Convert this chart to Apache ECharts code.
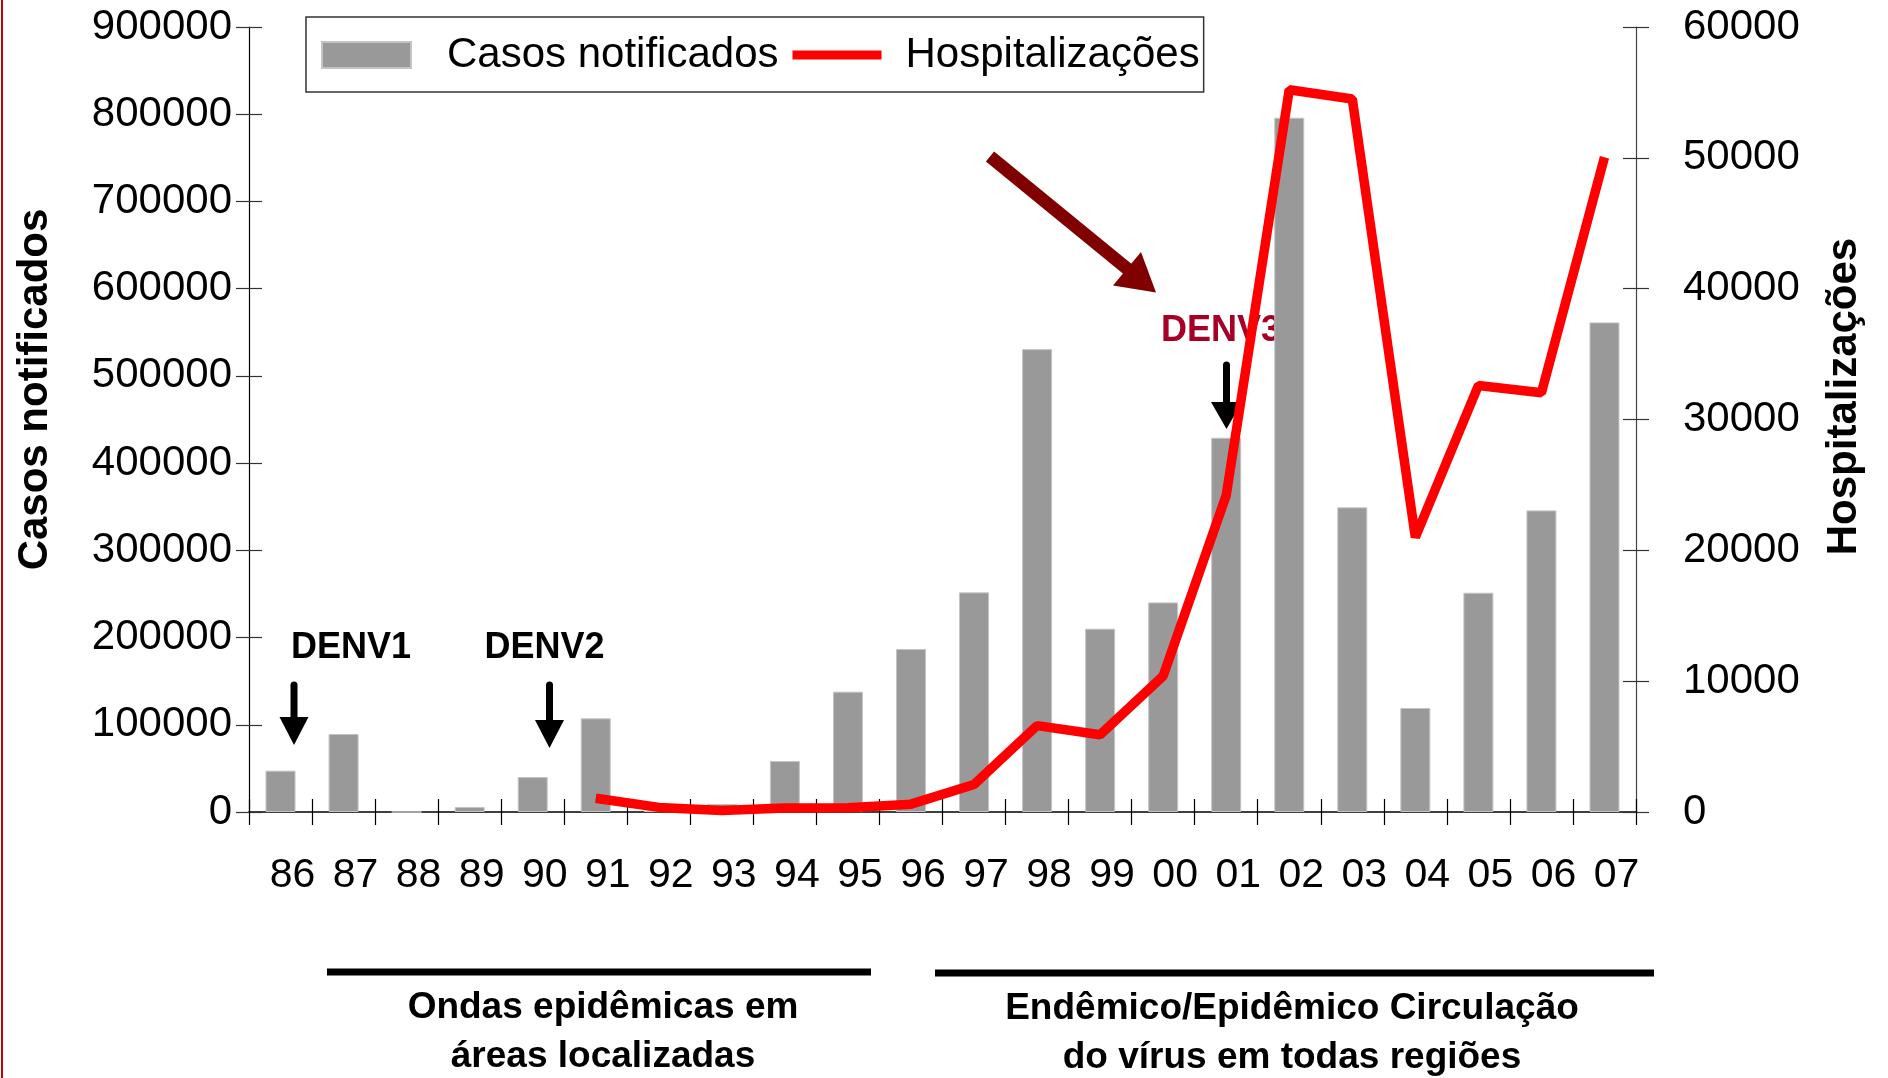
<!DOCTYPE html>
<html><head><meta charset="utf-8">
<script src="https://cdn.jsdelivr.net/npm/echarts@6/dist/echarts.min.js"></script>
<style>html,body{margin:0;padding:0;background:#fff}#c{width:1888px;height:1078px}</style>
</head><body><div id="c"></div>
<script>
// ---- data ----
const years = ['86','87','88','89','90','91','92','93','94','95','96','97','98','99','00','01','02','03','04','05','06','07'];
const casosNotificados = [47400, 89400, 0, 5700, 40100, 107400, 1700, 9200, 58500, 138000, 186900, 251800, 530700, 210200, 240300, 429100, 796000, 349300, 119200, 251400, 345800, 561300];
const hospitalizacoes = [null, null, null, null, null, 1050, 350, 120, 300, 330, 600, 2100, 6600, 5900, 10400, 24200, 55200, 54500, 21000, 32600, 32050, 50050];
const leftAxis = {min: 0, max: 900000, interval: 100000};
const rightAxis = {min: 0, max: 60000, interval: 10000};
const seriesNames = ['Casos notificados', 'Hospitalizações'];
const axisNames = ['Casos notificados', 'Hospitalizações'];
const notes = {denv1: 'DENV1', denv2: 'DENV2', denv3: 'DENV3',
  periodA: ['Ondas epidêmicas em', 'áreas localizadas'],
  periodB: ['Endêmico/Epidêmico Circulação', 'do vírus em todas regiões']};

const FF = '"Liberation Sans", Arial, Helvetica, sans-serif';
const chart = echarts.init(document.getElementById('c'), null, {renderer: 'canvas'});
const plain = v => String(v);

function tickAxisY(cfg, pos, inside, show) {
  return Object.assign({
    type: 'value', position: pos,
    splitLine: {show: false},
    axisLine: {show: !inside, lineStyle: {color: pos === 'left' ? '#000' : '#444', width: 1.2}},
    axisTick: {show: true, inside: inside, length: 13, lineStyle: {color: '#333', width: 1.2}},
    axisLabel: {show: show}
  }, cfg);
}

const yLeft = tickAxisY(leftAxis, 'left', false, true);
yLeft.axisLabel = {show: true, margin: 17, fontSize: 42, color: '#000', fontFamily: FF, formatter: plain};
yLeft.name = axisNames[0];
yLeft.nameLocation = 'middle';
yLeft.nameGap = 193;
yLeft.nameRotate = 90;
yLeft.nameTextStyle = {fontSize: 42, fontWeight: 'bold', color: '#000', fontFamily: FF, lineHeight: 42, padding: [0, 0, 0, 60]};

const yRight = tickAxisY(rightAxis, 'right', false, true);
yRight.axisLabel = {show: true, margin: 47, fontSize: 42, color: '#000', fontFamily: FF, formatter: plain};
yRight.name = axisNames[1];
yRight.nameLocation = 'middle';
yRight.nameGap = 187;
yRight.nameRotate = 90;
yRight.nameTextStyle = {fontSize: 42, fontWeight: 'bold', color: '#000', fontFamily: FF, lineHeight: 42, padding: [0, 0, 0, 46]};

const option = {
  animation: false,
  backgroundColor: '#fff',
  grid: {left: 249, right: 252, top: 27, bottom: 266, containLabel: false, outerBoundsMode: 'none'},
  legend: {
    left: 306, top: 17,
    orient: 'horizontal',
    padding: [17, 4, 16, 15],
    borderColor: '#333', borderWidth: 1.5,
    itemWidth: 89, itemHeight: 26, itemGap: 14,
    textStyle: {fontSize: 42, color: '#000', fontFamily: FF, lineHeight: 42},
    data: [
      {name: seriesNames[0], icon: 'rect', textStyle: {padding: [0, 0, 0, 31]}},
      {name: seriesNames[1], icon: 'path://M0,0H89V9H0Z', itemStyle: {color: '#ff0000', borderWidth: 0},
        textStyle: {padding: [0, 0, 0, 19]}}
    ]
  },
  xAxis: [
    {type: 'category', data: years, position: 'bottom',
      axisLine: {show: true, lineStyle: {color: '#000', width: 1.5}},
      axisTick: {show: true, length: 13, lineStyle: {color: '#000', width: 1.2}},
      axisLabel: {interval: 0, margin: 43, fontSize: 41, color: '#000', fontFamily: FF, padding: [0, 0, 0, 24]},
      splitLine: {show: false}},
    {type: 'category', data: years, position: 'bottom',
      axisLine: {show: false},
      axisTick: {show: true, inside: true, length: 13, lineStyle: {color: '#000', width: 1.2}},
      axisLabel: {show: false}, splitLine: {show: false}}
  ],
  yAxis: [
    yLeft,
    yRight,
    tickAxisY(leftAxis, 'left', true, false),
    tickAxisY(rightAxis, 'right', true, false)
  ],
  series: [
    {name: seriesNames[0], type: 'bar', xAxisIndex: 0, yAxisIndex: 0, data: casosNotificados,
      barWidth: 30,
      itemStyle: {color: '#999999', borderColor: '#c4c4c4', borderWidth: 1}},
    {name: seriesNames[1], type: 'line', xAxisIndex: 0, yAxisIndex: 1, data: hospitalizacoes,
      symbol: 'none', showSymbol: false, z: 5,
      lineStyle: {color: '#ff0000', width: 9.5, cap: 'butt', join: 'bevel'},
      itemStyle: {color: '#ff0000'}}
  ],
  graphic: [
    {type: 'line', z: 1, shape: {x1: 2, y1: 0, x2: 2, y2: 1078}, style: {stroke: '#c00000', lineWidth: 2}},
    // DENV1
    {type: 'text', z: 1, x: 351, y: 648, style: {text: notes.denv1, font: 'bold 36px ' + FF, fill: '#000', align: 'center', verticalAlign: 'middle'}},
    {type: 'line', z: 1, shape: {x1: 294, y1: 685, x2: 294, y2: 720}, style: {stroke: '#000', lineWidth: 7, lineCap: 'round'}},
    {type: 'polygon', z: 1, shape: {points: [[279.5, 717], [308.5, 717], [294, 745]]}, style: {fill: '#000'}},
    // DENV2
    {type: 'text', z: 1, x: 544.5, y: 648, style: {text: notes.denv2, font: 'bold 36px ' + FF, fill: '#000', align: 'center', verticalAlign: 'middle'}},
    {type: 'line', z: 1, shape: {x1: 549.5, y1: 685, x2: 549.5, y2: 723}, style: {stroke: '#000', lineWidth: 7, lineCap: 'round'}},
    {type: 'polygon', z: 1, shape: {points: [[535, 720], [564, 720], [549.5, 748]]}, style: {fill: '#000'}},
    // DENV3
    {type: 'text', z: 1, x: 1221, y: 331, style: {text: notes.denv3, font: 'bold 36px ' + FF, fill: '#a50026', align: 'center', verticalAlign: 'middle'}},
    {type: 'line', z: 1, shape: {x1: 1226.5, y1: 365, x2: 1226.5, y2: 405}, style: {stroke: '#000', lineWidth: 7, lineCap: 'round'}},
    {type: 'polygon', z: 1, shape: {points: [[1211, 402], [1242, 402], [1226.5, 429]]}, style: {fill: '#000'}},
    // big maroon arrow
    {type: 'line', z: 1, shape: {x1: 990, y1: 156.5, x2: 1130, y2: 271}, style: {stroke: '#800000', lineWidth: 13, lineCap: 'butt'}},
    {type: 'polygon', z: 1, shape: {points: [[1113, 285.5], [1141, 252], [1156, 292.5]]}, style: {fill: '#800000'}},
    // period bars
    {type: 'line', z: 1, shape: {x1: 327, y1: 972, x2: 871, y2: 972}, style: {stroke: '#000', lineWidth: 7}},
    {type: 'line', z: 1, shape: {x1: 935, y1: 973, x2: 1654, y2: 973}, style: {stroke: '#000', lineWidth: 7}},
    {type: 'text', z: 1, x: 603, y: 1008, style: {text: notes.periodA[0], font: 'bold 37px ' + FF, fill: '#000', align: 'center', verticalAlign: 'middle'}},
    {type: 'text', z: 1, x: 603, y: 1057, style: {text: notes.periodA[1], font: 'bold 37px ' + FF, fill: '#000', align: 'center', verticalAlign: 'middle'}},
    {type: 'text', z: 1, x: 1292, y: 1009, style: {text: notes.periodB[0], font: 'bold 37px ' + FF, fill: '#000', align: 'center', verticalAlign: 'middle'}},
    {type: 'text', z: 1, x: 1292, y: 1058, style: {text: notes.periodB[1], font: 'bold 37px ' + FF, fill: '#000', align: 'center', verticalAlign: 'middle'}}
  ]
};
chart.setOption(option);
</script>
</body></html>
